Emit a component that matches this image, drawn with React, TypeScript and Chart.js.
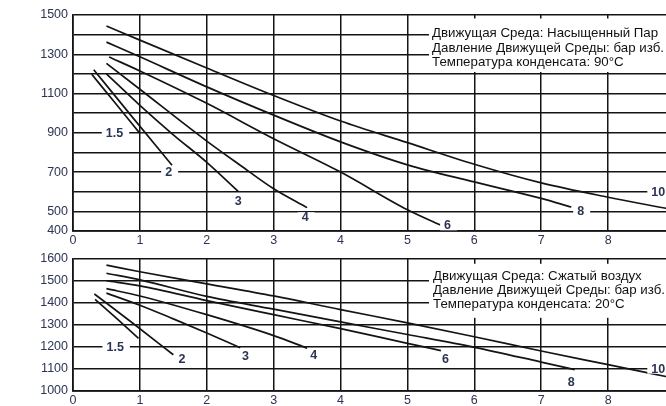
import React, { useEffect, useRef } from "react";
import { Chart, registerables } from "chart.js";

Chart.register(...registerables);

// ---------- shared ----------
const curveNames = ["1.5", "2", "3", "4", "6", "8", "10"];
const xGrid = [0, 1, 2, 3, 4, 5, 6, 7, 8, 9];
const xTickLabels = [0, 1, 2, 3, 4, 5, 6, 7, 8];

// ---------- top chart: saturated steam, 90°C ----------
const steam15X = [0.28, 0.64, 1.0];
const steam15Y = [1198, 1048, 897];
const steam2X = [0.31, 0.9, 1.48];
const steam2Y = [1221, 975, 735];
const steam3X = [0.5, 1, 1.5, 2, 2.47];
const steam3Y = [1200, 1040, 890, 750, 602];
const steam4X = [0.5, 1, 2, 2.5, 3, 3.5];
const steam4Y = [1254, 1122, 858, 735, 615, 519];
const steam6X = [0.54, 1, 2, 3, 4, 5, 5.5];
const steam6Y = [1286, 1215, 1050, 870, 700, 508, 429];
const steam8X = [0.5, 1, 2, 3, 4, 5, 6, 7, 7.45];
const steam8Y = [1362, 1287, 1134, 990, 854, 737, 650, 566, 522];
const steam10X = [0.5, 1, 2, 3, 4, 5, 6, 7, 8, 8.9];
const steam10Y = [1444, 1372, 1230, 1090, 960, 850, 740, 645, 572, 513];

const steamLabelX = [0.62, 1.43, 2.47, 3.47, 5.6, 7.59, 8.75];
const steamLabelY = [900, 700, 551, 470, 429, 500, 600];

const steamYGrid = [400, 500, 600, 700, 800, 900, 1000, 1100, 1200, 1300, 1400, 1500];
const steamYLabels = [1500, 1300, 1100, 900, 700, 500, 400];

const steamNote = [
  "Движущая Среда: Насыщенный Пар",
  "Давление Движущей Среды: бар изб.",
  "Температура конденсата: 90°C",
];

// ---------- bottom chart: compressed air, 20°C ----------
const air15X = [0.33, 0.66, 0.98];
const air15Y = [1415, 1326, 1238];
const air2X = [0.32, 0.9, 1.5];
const air2Y = [1439, 1305, 1163];
const air3X = [0.5, 1, 1.5, 2, 2.5];
const air3Y = [1443, 1388, 1326, 1262, 1195];
const air4X = [0.5, 1, 2, 3, 3.5];
const air4Y = [1463, 1430, 1345, 1250, 1193];
const air6X = [0.5, 1, 2, 3, 4, 5, 5.5];
const air6Y = [1499, 1476, 1409, 1345, 1282, 1215, 1182];
const air8X = [0.5, 1, 2, 3, 4, 5, 6, 7, 7.5];
const air8Y = [1533, 1503, 1428, 1370, 1312, 1255, 1197, 1130, 1096];
const air10X = [0.5, 1, 2, 3, 4, 5, 6, 7, 8, 8.9];
const air10Y = [1570, 1540, 1485, 1430, 1368, 1308, 1245, 1180, 1118, 1062];

const airLabelX = [0.63, 1.63, 2.58, 3.6, 5.57, 7.45, 8.75];
const airLabelY = [1200, 1143, 1157, 1160, 1142, 1040, 1100];

const airYGrid = [1000, 1100, 1200, 1300, 1400, 1500, 1600];
const airYLabels = [1600, 1500, 1400, 1300, 1200, 1100, 1000];

const airNote = [
  "Движущая Среда: Сжатый воздух",
  "Давление Движущей Среды: бар изб.",
  "Температура конденсата: 20°C",
];

// ---------- styling ----------
const FONT = "'Liberation Sans', Arial, Helvetica, sans-serif";
const TICK_COLOR = "#2b3452";
const LINE = "#141414";

type NoteLayout = { boxTop: number; boxBottom: number; boxLeft: number; textX: number; baselines: number[] };

function overlayPlugin(
  labelX: number[],
  labelY: number[],
  note: string[],
  layout: NoteLayout
) {
  return {
    id: "overlay",
    beforeDatasetsDraw(chart: any) {
      const { ctx } = chart;
      const area = chart.chartArea;
      ctx.save();
      ctx.fillStyle = "#ffffff";
      const left = area.left + layout.boxLeft;
      ctx.fillRect(left, area.top + layout.boxTop, chart.width - left, layout.boxBottom - layout.boxTop);
      ctx.fillStyle = "#111111";
      ctx.font = `13.3px ${FONT}`;
      ctx.textBaseline = "alphabetic";
      ctx.textAlign = "left";
      note.forEach((t, i) => {
        ctx.fillText(t, area.left + layout.textX, area.top + layout.baselines[i]);
      });
      ctx.restore();
    },
    afterDatasetsDraw(chart: any) {
      const { ctx } = chart;
      const xs = chart.scales.x;
      const ys = chart.scales.y;
      ctx.save();
      ctx.font = `bold 12.5px ${FONT}`;
      ctx.textAlign = "center";
      ctx.textBaseline = "middle";
      curveNames.forEach((name, i) => {
        const px = xs.getPixelForValue(labelX[i]);
        const py = ys.getPixelForValue(labelY[i]);
        const w = ctx.measureText(name).width;
        ctx.fillStyle = "#ffffff";
        ctx.fillRect(px - w / 2 - 4, py - 5, w + 10, 10);
        ctx.fillStyle = TICK_COLOR;
        ctx.fillText(name, px, py + 0.5);
      });
      ctx.restore();
    },
  };
}

function buildConfig(
  curvesX: number[][],
  curvesY: number[][],
  yGrid: number[],
  yLabels: number[],
  padTop: number,
  xAxisH: number,
  plugin: any
): any {
  return {
    type: "line",
    data: {
      datasets: curvesX.map((xs, i) => ({
        label: curveNames[i],
        data: xs.map((x, j) => ({ x, y: curvesY[i][j] })),
        borderColor: LINE,
        borderWidth: 1.7,
        pointRadius: 0,
        fill: false,
        cubicInterpolationMode: "monotone",
      })),
    },
    options: {
      responsive: false,
      animation: false,
      events: [],
      layout: { padding: { left: 0, right: 5, top: padTop, bottom: 0 } },
      plugins: { legend: { display: false }, tooltip: { enabled: false } },
      scales: {
        x: {
          type: "linear",
          min: xGrid[0],
          max: xGrid[xGrid.length - 1],
          afterFit: (s: any) => {
            s.height = xAxisH;
          },
          afterBuildTicks: (s: any) => {
            s.ticks = xGrid.map((v) => ({ value: v }));
          },
          ticks: {
            padding: 2,
            color: TICK_COLOR,
            font: { family: FONT, size: 12.5 },
            maxRotation: 0,
            autoSkip: false,
            callback: (v: any) => (xTickLabels.includes(Number(v)) ? String(v) : ""),
          },
          grid: { color: LINE, lineWidth: 1.5, drawTicks: false },
          border: { color: LINE, width: 1.7 },
        },
        y: {
          type: "linear",
          min: yGrid[0],
          max: yGrid[yGrid.length - 1],
          afterFit: (s: any) => {
            s.width = 73;
          },
          afterBuildTicks: (s: any) => {
            s.ticks = yGrid.map((v) => ({ value: v }));
          },
          ticks: {
            padding: 5,
            color: TICK_COLOR,
            font: { family: FONT, size: 12.5 },
            autoSkip: false,
            callback: (v: any) => (yLabels.includes(Number(v)) ? String(v) : ""),
          },
          grid: { color: LINE, lineWidth: 1.5, drawTicks: false },
          border: { color: LINE, width: 1.7 },
        },
      },
    },
    plugins: [plugin],
  };
}

export default function App() {
  const topRef = useRef<HTMLCanvasElement>(null);
  const botRef = useRef<HTMLCanvasElement>(null);

  useEffect(() => {
    const top = new Chart(
      topRef.current as HTMLCanvasElement,
      buildConfig(
        [steam15X, steam2X, steam3X, steam4X, steam6X, steam8X, steam10X],
        [steam15Y, steam2Y, steam3Y, steam4Y, steam6Y, steam8Y, steam10Y],
        steamYGrid,
        steamYLabels,
        15,
        21,
        overlayPlugin(steamLabelX, steamLabelY, steamNote, {
          boxLeft: 356,
          boxTop: 3.5,
          boxBottom: 57,
          textX: 359,
          baselines: [21.5, 36.5, 51],
        })
      )
    );
    const bot = new Chart(
      botRef.current as HTMLCanvasElement,
      buildConfig(
        [air15X, air2X, air3X, air4X, air6X, air8X, air10X],
        [air15Y, air2Y, air3Y, air4Y, air6Y, air8Y, air10Y],
        airYGrid,
        airYLabels,
        10.7,
        17.3,
        overlayPlugin(airLabelX, airLabelY, airNote, {
          boxLeft: 356,
          boxTop: 5.3,
          boxBottom: 59.3,
          textX: 360,
          baselines: [21, 35, 49],
        })
      )
    );
    return () => {
      top.destroy();
      bot.destroy();
    };
  }, []);

  return (
    <div
      style={{
        position: "fixed",
        left: 0,
        top: 0,
        width: 666,
        height: 406,
        overflow: "hidden",
        background: "#ffffff",
      }}
    >
      <canvas
        ref={topRef}
        width={680}
        height={252}
        style={{ position: "absolute", left: 0, top: 0, width: 680, height: 252 }}
      />
      <canvas
        ref={botRef}
        width={680}
        height={162}
        style={{ position: "absolute", left: 0, top: 246, width: 680, height: 162 }}
      />
    </div>
  );
}
